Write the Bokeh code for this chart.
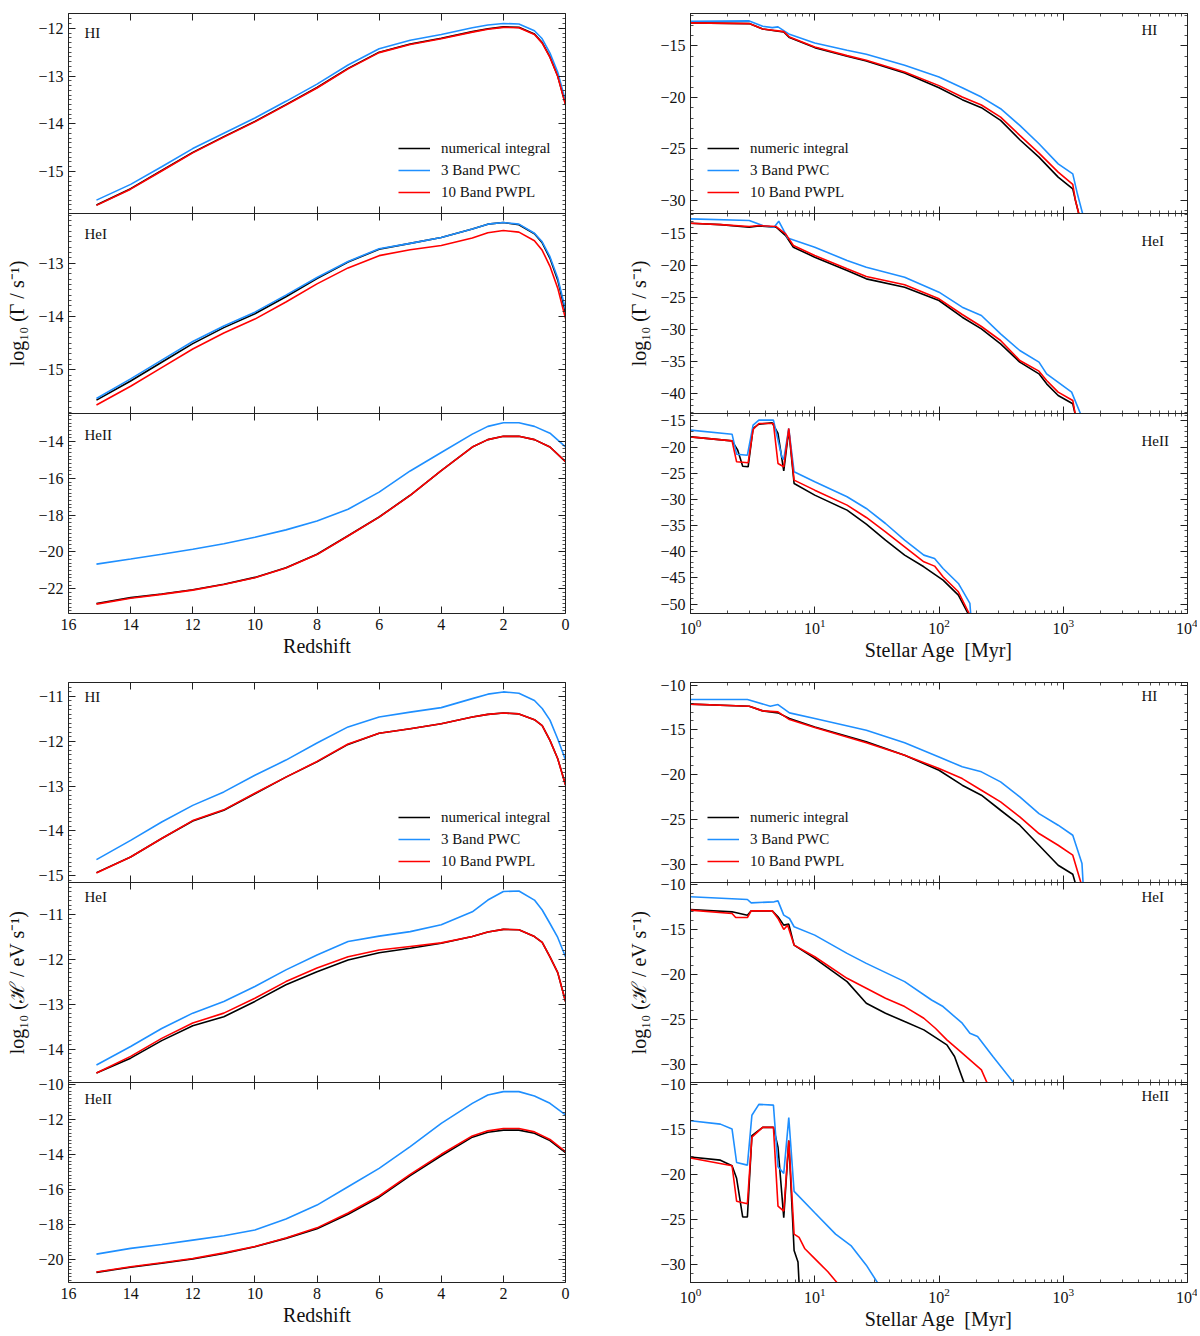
from bokeh.plotting import figure
from bokeh.models import (Range1d, LinearAxis, LogAxis, SingleIntervalTicker, LogTicker,
                          Legend, LegendItem, Label, CustomJSTickFormatter)
from bokeh.layouts import row, column
from bokeh.embed import file_html
from bokeh.resources import INLINE

FONT = "Liberation Serif"
AX = "#222222"
C_NUM, C_PWC, C_PWPL = "#000000", "#1E8FFF", "#FF0000"
LEG_LEFT = ["numerical integral", "3 Band PWC", "10 Band PWPL"]
LEG_RIGHT = ["numeric integral", "3 Band PWC", "10 Band PWPL"]

# ---------------- left column: redshift ----------------
Z_A = [15.1, 14, 13, 12, 11, 10, 9, 8, 7, 6, 5, 4, 3, 2.5, 2, 1.5, 1, 0.75, 0.5, 0.25, 0]
Z_B = [15.1, 14, 13, 12, 11, 10, 9, 8, 7, 6, 5, 4, 3, 2.5, 2, 1.5, 1, 0.5, 0]

# photoionisation rate Gamma (log10 s^-1)
G_HI_NUM = [-15.70, -15.36, -14.98, -14.60, -14.27, -13.95, -13.60, -13.24, -12.84, -12.50, -12.33,
            -12.21, -12.07, -12.01, -11.97, -11.98, -12.12, -12.30, -12.60, -13.00, -13.59]
G_HI_PWC = [-15.60, -15.27, -14.90, -14.52, -14.20, -13.88, -13.53, -13.17, -12.77, -12.43, -12.25,
            -12.13, -11.99, -11.93, -11.90, -11.91, -12.05, -12.22, -12.52, -12.92, -13.52]
G_HI_PWPL = [-15.71, -15.37, -14.99, -14.61, -14.28, -13.96, -13.61, -13.25, -12.85, -12.51, -12.34,
             -12.22, -12.08, -12.02, -11.98, -11.99, -12.13, -12.31, -12.61, -13.01, -13.60]

G_HEI_NUM = [-15.57, -15.21, -14.86, -14.51, -14.21, -13.95, -13.63, -13.29, -12.98, -12.74, -12.63,
             -12.52, -12.36, -12.27, -12.24, -12.28, -12.45, -12.62, -12.91, -13.32, -13.93]
G_HEI_PWC = [-15.54, -15.17, -14.82, -14.47, -14.18, -13.92, -13.60, -13.27, -12.97, -12.73, -12.63,
             -12.52, -12.36, -12.27, -12.24, -12.27, -12.44, -12.60, -12.88, -13.28, -13.87]
G_HEI_PWPL = [-15.66, -15.31, -14.96, -14.61, -14.31, -14.05, -13.73, -13.39, -13.09, -12.86, -12.75,
              -12.67, -12.53, -12.43, -12.39, -12.42, -12.58, -12.76, -13.06, -13.47, -14.04]

G_HEII_NUM = [-22.80, -22.48, -22.28, -22.05, -21.75, -21.38, -20.85, -20.12, -19.12, -18.10, -16.92,
              -15.58, -14.30, -13.90, -13.72, -13.72, -13.90, -14.30, -15.10]
G_HEII_PWC = [-20.66, -20.38, -20.12, -19.85, -19.55, -19.20, -18.80, -18.32, -17.68, -16.75, -15.60,
              -14.60, -13.60, -13.18, -12.98, -12.98, -13.18, -13.55, -14.29]
G_HEII_PWPL = [-22.83, -22.51, -22.30, -22.07, -21.77, -21.40, -20.87, -20.14, -19.13, -18.11, -16.93,
               -15.58, -14.30, -13.90, -13.72, -13.72, -13.90, -14.30, -15.10]

# photoheating rate H (log10 eV s^-1)
H_HI_NUM = [-14.93, -14.58, -14.17, -13.78, -13.54, -13.17, -12.80, -12.46, -12.07, -11.82, -11.72,
            -11.61, -11.46, -11.40, -11.37, -11.39, -11.52, -11.65, -11.98, -12.39, -12.97]
H_HI_PWC = [-14.64, -14.21, -13.80, -13.43, -13.13, -12.76, -12.42, -12.04, -11.68, -11.46, -11.35,
            -11.25, -11.05, -10.95, -10.90, -10.93, -11.09, -11.27, -11.53, -11.95, -12.42]
H_HI_PWPL = [-14.94, -14.58, -14.17, -13.77, -13.53, -13.16, -12.80, -12.45, -12.06, -11.82, -11.72,
             -11.61, -11.46, -11.40, -11.37, -11.39, -11.52, -11.65, -11.98, -12.39, -12.98]

H_HEI_NUM = [-14.53, -14.20, -13.81, -13.48, -13.28, -12.94, -12.57, -12.28, -12.02, -11.86, -11.76,
             -11.65, -11.50, -11.40, -11.34, -11.35, -11.50, -11.63, -11.95, -12.30, -12.94]
H_HEI_PWC = [-14.35, -13.94, -13.54, -13.20, -12.94, -12.61, -12.24, -11.91, -11.61, -11.49, -11.39,
             -11.24, -10.95, -10.69, -10.50, -10.49, -10.69, -10.91, -11.21, -11.52, -11.95]
H_HEI_PWPL = [-14.53, -14.16, -13.76, -13.42, -13.20, -12.87, -12.50, -12.20, -11.95, -11.80, -11.72,
              -11.64, -11.50, -11.40, -11.34, -11.35, -11.50, -11.63, -11.95, -12.30, -12.94]

H_HEII_NUM = [-20.74, -20.45, -20.22, -19.98, -19.66, -19.28, -18.80, -18.25, -17.42, -16.45, -15.22,
              -14.08, -13.02, -12.74, -12.62, -12.62, -12.80, -13.22, -13.90]
H_HEII_PWC = [-19.70, -19.37, -19.15, -18.90, -18.65, -18.32, -17.70, -16.90, -15.85, -14.80, -13.56,
              -12.23, -11.09, -10.61, -10.42, -10.42, -10.67, -11.09, -11.75]
H_HEII_PWPL = [-20.72, -20.42, -20.19, -19.95, -19.63, -19.26, -18.78, -18.20, -17.35, -16.38, -15.15,
               -14.00, -12.95, -12.66, -12.53, -12.53, -12.72, -13.15, -13.85]

# ---------------- right column: stellar age (Myr) ----------------
AG_HI_NUM = [1, 2.97, 3.81, 5.06, 5.63, 6.26, 10, 18.2, 26, 52.9, 100, 153.8, 219.4, 313.1, 446.9,
             637.8, 910, 1193, 1254, 1345]
VG_HI_NUM = [-12.76, -12.83, -13.35, -13.57, -13.64, -14.19, -15.16, -16.00, -16.46, -17.62, -19.05,
             -20.21, -20.99, -22.22, -24.10, -25.79, -27.73, -28.86, -30.00, -31.46]
AG_HI_PWPL = AG_HI_NUM
VG_HI_PWPL = [-12.76, -12.83, -13.35, -13.54, -13.61, -14.13, -15.10, -15.94, -16.39, -17.52, -18.85,
              -19.95, -20.73, -21.90, -23.68, -25.40, -27.25, -28.44, -30.00, -31.46]
AG_HI_PWC = [1, 2.97, 3.81, 4.55, 5.06, 6.26, 10, 18.2, 26, 52.9, 100, 153.8, 219.4, 313.1, 446.9,
             637.8, 910, 1193, 1299, 1445]
VG_HI_PWC = [-12.60, -12.57, -13.09, -13.22, -13.15, -13.87, -14.71, -15.42, -15.81, -16.88, -18.01,
             -19.05, -19.96, -21.09, -22.71, -24.49, -26.44, -27.41, -29.35, -31.46]

AG_HEI_NUM = [1, 1.74, 2.97, 3.55, 4.89, 5.83, 6.73, 10, 18.2, 26, 52.9, 100, 153.8, 219.4, 313.1,
              446.9, 637.8, 735, 910, 1193, 1254]
VG_HEI_NUM = [-13.33, -13.54, -13.95, -13.74, -13.95, -15.26, -17.09, -18.66, -20.75, -22.06, -23.37,
              -25.46, -28.08, -29.91, -32.26, -35.14, -36.97, -38.54, -40.37, -41.67, -43.50]
AG_HEI_PWPL = AG_HEI_NUM
VG_HEI_PWPL = [-13.33, -13.54, -13.85, -13.69, -13.85, -15.00, -16.83, -18.40, -20.49, -21.69, -23.00,
               -25.20, -27.66, -29.54, -31.74, -34.87, -36.55, -38.01, -39.84, -41.15, -43.50]
AG_HEI_PWC = [1, 2.97, 3.81, 4.71, 5.13, 6.05, 10, 18.2, 26, 52.9, 100, 153.8, 219.4, 313.1, 446.9,
              637.8, 735, 1168, 1394]
VG_HEI_PWC = [-12.65, -12.91, -13.69, -13.95, -13.01, -15.63, -17.09, -19.18, -20.23, -21.80, -24.15,
              -26.51, -27.81, -30.69, -33.31, -35.14, -36.97, -39.84, -43.50]

AG_HEII_NUM = [1, 2.16, 2.40, 2.63, 2.91, 3.19, 3.55, 4.55, 5.06, 5.63, 6.18, 6.82, 10, 18.2, 26, 37.1,
               52.9, 75.5, 107.8, 143.2, 171.1]
VG_HEII_NUM = [-18.06, -18.82, -20.60, -23.66, -23.78, -16.46, -15.64, -15.38, -17.42, -24.55, -16.78,
               -26.97, -29.19, -32.06, -34.73, -37.79, -40.65, -42.88, -45.43, -48.29, -51.80]
AG_HEII_PWPL = [1, 2.16, 2.35, 2.91, 3.19, 3.55, 4.65, 5.06, 5.63, 6.18, 6.82, 10, 18.2, 26, 37.1, 52.9,
                75.5, 92.1, 107.8, 143.2, 174.8]
VG_HEII_PWPL = [-18.06, -18.82, -22.83, -23.02, -16.65, -15.51, -15.51, -23.15, -23.78, -16.46, -26.33,
                -28.24, -31.10, -33.46, -36.20, -39.06, -41.93, -42.75, -44.79, -47.65, -51.80]
AG_HEII_PWC = [1, 2.16, 2.35, 2.87, 3.19, 3.55, 4.65, 5.43, 5.63, 6.18, 6.82, 10, 18.2, 26, 37.1, 52.9,
               75.5, 92.1, 107.8, 143.2, 177.3, 179.8]
VG_HEII_PWC = [-16.78, -17.55, -21.37, -21.56, -15.83, -14.87, -14.87, -21.87, -22.38, -16.46, -24.74,
               -26.65, -29.51, -31.74, -34.61, -37.79, -40.65, -41.29, -43.20, -46.06, -49.88, -51.80]

AH_HI_NUM = [1, 2.97, 3.81, 5.06, 6.26, 10, 26, 52.9, 100, 153.8, 219.4, 313.1, 446.9, 637.8, 910,
             1193, 1254]
VH_HI_NUM = [-12.12, -12.35, -12.87, -13.09, -13.72, -14.66, -16.33, -17.82, -19.50, -21.17, -22.29,
             -23.97, -25.64, -27.88, -30.11, -31.12, -32.16]
AH_HI_PWPL = [1, 2.97, 3.81, 5.06, 6.26, 10, 26, 52.9, 100, 153.8, 219.4, 313.1, 446.9, 637.8, 910,
              1193, 1394]
VH_HI_PWPL = [-12.12, -12.35, -12.87, -12.98, -13.84, -14.73, -16.44, -17.82, -19.31, -20.43, -21.73,
              -23.04, -24.71, -26.57, -27.88, -28.99, -32.16]
AH_HI_PWC = [1, 2.87, 4.39, 5.06, 6.26, 10, 26, 52.9, 100, 153.8, 219.4, 313.1, 446.9, 637.8, 910,
             1193, 1415, 1445]
VH_HI_PWC = [-11.60, -11.60, -12.35, -12.16, -13.09, -13.72, -15.03, -16.44, -18.01, -19.12, -19.68,
             -20.80, -22.48, -24.34, -25.64, -26.76, -29.93, -32.16]

AH_HEI_NUM = [1, 2.16, 2.87, 3.08, 4.55, 5.06, 5.63, 6.18, 6.82, 10, 18.2, 26, 37.1, 52.9, 75.5, 115.7,
              133.4, 159.4]
VH_HEI_NUM = [-12.81, -13.07, -13.44, -12.96, -12.96, -13.62, -14.55, -14.44, -16.77, -18.24, -20.83,
              -23.23, -24.34, -25.27, -26.19, -27.86, -29.15, -32.11]
AH_HEI_PWPL = [1, 2.16, 2.31, 2.87, 3.08, 4.55, 5.06, 5.63, 6.05, 6.82, 10, 18.2, 26, 37.1, 52.9, 75.5,
               93.5, 115.7, 153.8, 219.4, 244.2]
VH_HEI_PWPL = [-12.88, -13.25, -13.70, -13.70, -12.96, -12.96, -13.81, -15.03, -14.55, -16.77, -18.06,
               -20.46, -21.57, -22.68, -23.60, -24.90, -26.01, -27.30, -28.78, -30.63, -32.11]
AH_HEI_PWC = [1, 2.87, 3.08, 4.71, 5.06, 5.63, 6.26, 6.82, 10, 18.2, 26, 52.9, 87.1, 107.8, 153.8, 177.3,
              204.4, 271.6, 401.7]
VH_HEI_PWC = [-11.40, -11.70, -12.07, -11.96, -11.85, -13.44, -13.81, -14.73, -15.66, -17.69, -18.80,
              -20.83, -22.87, -23.60, -25.45, -26.56, -26.93, -29.15, -32.11]

AH_HEII_NUM = [1, 1.74, 2.16, 2.35, 2.63, 2.87, 3.12, 3.81, 4.65, 5.06, 5.63, 6.18, 6.82, 7.33, 7.48]
VH_HEII_NUM = [-18.04, -18.40, -19.02, -20.42, -24.73, -24.73, -15.66, -14.74, -14.74, -16.94, -24.81,
               -16.21, -28.47, -29.75, -32.12]
AH_HEII_PWPL = [1, 2.16, 2.35, 2.87, 3.12, 3.81, 4.65, 5.06, 5.63, 6.18, 6.82, 7.48, 8.33, 10, 12.76,
                15.24]
VH_HEII_PWPL = [-18.15, -19.02, -22.98, -23.27, -15.84, -14.74, -14.74, -23.53, -24.07, -16.21, -26.64,
                -27.00, -28.28, -29.38, -30.84, -32.12]
AH_HEII_PWC = [1, 1.74, 2.16, 2.35, 2.87, 3.12, 3.55, 4.65, 5.06, 5.63, 6.18, 6.82, 10, 14.71, 19.55,
               26, 32.2]
VH_HEII_PWC = [-14.01, -14.38, -14.93, -18.66, -18.95, -13.39, -12.18, -12.26, -19.13, -19.87, -13.65,
               -21.88, -24.26, -26.64, -27.92, -30.11, -32.12]

MINUS = CustomJSTickFormatter(code="""
const v = Math.round(tick * 1000) / 1000;
return (v < 0 ? '\u2212' : '') + Math.abs(v).toString();
""")
BLANK = CustomJSTickFormatter(code="return '';")

FRAME_H = 200
LEFT_W, RIGHT_W = 575, 622
LEFT_B = {"L": 68, "R": 115}


def style_axis(ax, show):
    ax.axis_line_color = AX
    ax.axis_line_width = 1
    ax.major_tick_in = 7
    ax.major_tick_out = 0
    ax.minor_tick_in = 3
    ax.minor_tick_out = 0
    ax.major_tick_line_color = AX
    ax.minor_tick_line_color = AX
    ax.minor_tick_line_width = 0.8
    if show:
        ax.major_label_text_font = FONT
        ax.major_label_text_font_size = "16px"
        ax.major_label_text_color = "#111111"
        ax.major_label_standoff = 5
    else:
        ax.formatter = BLANK
        ax.major_label_text_font_size = "0px"
        ax.major_label_standoff = 0
    ax.axis_label_text_font = FONT
    ax.axis_label_text_font_size = "20px"
    ax.axis_label_text_font_style = "normal"
    ax.axis_label_text_color = "#111111"


def x_axis(side):
    if side == "L":
        return LinearAxis(ticker=SingleIntervalTicker(interval=2, num_minor_ticks=0))
    return LogAxis(ticker=LogTicker(num_minor_ticks=10))


def make_panel(side, yr, ystep, yminor, top, bottom, xlabel=None, ylabel=None, margin_top=0):
    kw = dict(width=LEFT_W if side == "L" else RIGHT_W, height=top + FRAME_H + bottom,
              toolbar_location=None, output_backend="svg",
              x_axis_location=None, y_axis_location=None,
              y_range=Range1d(yr[0], yr[1]),
              min_border_top=top, min_border_bottom=bottom,
              min_border_left=LEFT_B[side], min_border_right=10)
    if side == "L":
        kw["x_range"] = Range1d(16, 0)
    else:
        kw["x_range"] = Range1d(1, 1e4)
        kw["x_axis_type"] = "log"
    if margin_top:
        kw["margin"] = (margin_top, 0, 0, 0)
    p = figure(**kw)
    p.grid.visible = False
    p.outline_line_color = None
    p.background_fill_color = None
    p.border_fill_color = None

    xb = x_axis(side)
    style_axis(xb, xlabel is not None)
    if xlabel is not None:
        xb.axis_label = xlabel
        xb.axis_label_standoff = 2
    p.add_layout(xb, "below")
    xa = x_axis(side)
    style_axis(xa, False)
    p.add_layout(xa, "above")

    yl = LinearAxis(ticker=SingleIntervalTicker(interval=ystep, num_minor_ticks=yminor), formatter=MINUS)
    style_axis(yl, True)
    if ylabel is not None:
        yl.axis_label = ylabel
        yl.axis_label_standoff = 7
    p.add_layout(yl, "left")
    yrr = LinearAxis(ticker=SingleIntervalTicker(interval=ystep, num_minor_ticks=yminor))
    style_axis(yrr, False)
    p.add_layout(yrr, "right")
    return p


def add_lines(p, x_num, y_num, x_pwc, y_pwc, x_pwpl, y_pwpl):
    r1 = p.line(x_num, y_num, line_color=C_NUM, line_width=1.6)
    r2 = p.line(x_pwc, y_pwc, line_color=C_PWC, line_width=1.6)
    r3 = p.line(x_pwpl, y_pwpl, line_color=C_PWPL, line_width=1.6)
    return [r1, r2, r3]


def add_legend(p, rends, labels, xoff):
    items = [LegendItem(label=l, renderers=[r]) for l, r in zip(labels, rends)]
    leg = Legend(items=items, location=(xoff, 11), orientation="vertical", padding=0, margin=0,
                 spacing=2, label_height=20, glyph_height=20, glyph_width=32, label_standoff=11,
                 label_text_font=FONT, label_text_font_size="15px", label_text_color="#111111",
                 border_line_color=None, background_fill_alpha=0)
    p.add_layout(leg)


def add_tag(p, text, side, dy):
    x = 16 if side == "L" else 451
    p.add_layout(Label(x=x, y=FRAME_H - dy, x_units="screen", y_units="screen", text=text,
                       text_font=FONT, text_font_size="15px", text_color="#111111",
                       text_baseline="middle", text_align="left"))


Y_GAMMA = "log\u2081\u2080 (\u0393 / s\u207b\u00b9)"
Y_HEAT = "log\u2081\u2080 (\u210b / eV s\u207b\u00b9)"

# ---------- left column ----------
L1 = make_panel("L", (-15.88, -11.69), 1, 10, 13, 12)
rl1 = add_lines(L1, Z_A, G_HI_NUM, Z_A, G_HI_PWC, Z_A, G_HI_PWPL)
add_legend(L1, rl1, LEG_LEFT, 330)
add_tag(L1, "HI", "L", 19)

L2 = make_panel("L", (-15.82, -12.07), 1, 10, 12, 12, ylabel=Y_GAMMA, margin_top=-24)
add_lines(L2, Z_A, G_HEI_NUM, Z_A, G_HEI_PWC, Z_A, G_HEI_PWPL)
add_tag(L2, "HeI", "L", 20)

L3 = make_panel("L", (-23.34, -12.48), 2, 10, 12, 50, xlabel="Redshift", margin_top=-24)
add_lines(L3, Z_B, G_HEII_NUM, Z_B, G_HEII_PWC, Z_B, G_HEII_PWPL)
add_tag(L3, "HeII", "L", 21)

L4 = make_panel("L", (-15.15, -10.69), 1, 10, 19, 12)
rl4 = add_lines(L4, Z_A, H_HI_NUM, Z_A, H_HI_PWC, Z_A, H_HI_PWPL)
add_legend(L4, rl4, LEG_LEFT, 330)
add_tag(L4, "HI", "L", 14)

L5 = make_panel("L", (-14.74, -10.30), 1, 10, 12, 12, ylabel=Y_HEAT, margin_top=-24)
add_lines(L5, Z_A, H_HEI_NUM, Z_A, H_HEI_PWC, Z_A, H_HEI_PWPL)
add_tag(L5, "HeI", "L", 14)

L6 = make_panel("L", (-21.32, -9.90), 2, 10, 12, 50, xlabel="Redshift", margin_top=-24)
add_lines(L6, Z_B, H_HEII_NUM, Z_B, H_HEII_PWC, Z_B, H_HEII_PWPL)
add_tag(L6, "HeII", "L", 16)

# ---------- right column ----------
XR = "Stellar Age\u00a0\u00a0[Myr]"
R1 = make_panel("R", (-31.26, -11.85), 5, 5, 13, 12)
rr1 = add_lines(R1, AG_HI_NUM, VG_HI_NUM, AG_HI_PWC, VG_HI_PWC, AG_HI_PWPL, VG_HI_PWPL)
add_legend(R1, rr1, LEG_RIGHT, 17)
add_tag(R1, "HI", "R", 16)

R2 = make_panel("R", (-43.2, -11.8), 5, 5, 12, 12, ylabel=Y_GAMMA, margin_top=-24)
add_lines(R2, AG_HEI_NUM, VG_HEI_NUM, AG_HEI_PWC, VG_HEI_PWC, AG_HEI_PWPL, VG_HEI_PWPL)
add_tag(R2, "HeI", "R", 27)

R3 = make_panel("R", (-51.8, -13.6), 5, 5, 12, 50, xlabel=XR, margin_top=-24)
add_lines(R3, AG_HEII_NUM, VG_HEII_NUM, AG_HEII_PWC, VG_HEII_PWC, AG_HEII_PWPL, VG_HEII_PWPL)
add_tag(R3, "HeII", "R", 27)

R4 = make_panel("R", (-32.04, -9.70), 5, 5, 19, 12)
rr4 = add_lines(R4, AH_HI_NUM, VH_HI_NUM, AH_HI_PWC, VH_HI_PWC, AH_HI_PWPL, VH_HI_PWPL)
add_legend(R4, rr4, LEG_RIGHT, 17)
add_tag(R4, "HI", "R", 13)

R5 = make_panel("R", (-32.04, -9.81), 5, 5, 12, 12, ylabel=Y_HEAT, margin_top=-24)
add_lines(R5, AH_HEI_NUM, VH_HEI_NUM, AH_HEI_PWC, VH_HEI_PWC, AH_HEI_PWPL, VH_HEI_PWPL)
add_tag(R5, "HeI", "R", 14)

R6 = make_panel("R", (-32.04, -9.74), 5, 5, 12, 50, xlabel=XR, margin_top=-24)
add_lines(R6, AH_HEII_NUM, VH_HEII_NUM, AH_HEII_PWC, VH_HEII_PWC, AH_HEII_PWPL, VH_HEII_PWPL)
add_tag(R6, "HeII", "R", 13)

layout = row(column(L1, L2, L3, L4, L5, L6), column(R1, R2, R3, R4, R5, R6))

with open("out.html", "w") as f:
    f.write(file_html(layout, INLINE))
